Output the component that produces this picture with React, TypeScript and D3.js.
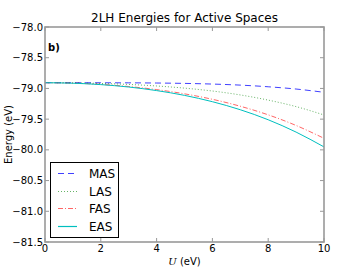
import React from "react";
import * as d3 from "d3";

const uValues = [0, 1, 2, 3, 4, 5, 6, 7, 8, 9, 10];
const masValues = [-78.907, -78.907, -78.908, -78.909, -78.912, -78.918, -78.929, -78.946, -78.973, -79.01, -79.063];
const lasValues = [-78.907, -78.91, -78.919, -78.935, -78.96, -78.995, -79.042, -79.106, -79.19, -79.296, -79.432];
const fasValues = [-78.907, -78.914, -78.934, -78.969, -79.019, -79.088, -79.177, -79.29, -79.43, -79.603, -79.812];
const easValues = [-78.907, -78.915, -78.938, -78.977, -79.035, -79.113, -79.216, -79.347, -79.51, -79.711, -79.952];
const seriesNames = ["MAS", "LAS", "FAS", "EAS"];
const xTicks = [0, 2, 4, 6, 8, 10];
const yTicks = [-78.0, -78.5, -79.0, -79.5, -80.0, -80.5, -81.0, -81.5];

const styles = [
  { color: "#0000ff", dash: "6,4", op: 0.75 },
  { color: "#008000", dash: "1,2", op: 0.6 },
  { color: "#ff0000", dash: "5,2,1,2", op: 0.6 },
  { color: "#00bfbf", dash: null, op: 1 },
];

export default function App() {
  const W = 360, H = 269;
  const L = 45, R = 324, T = 27, B = 242;
  const x = d3.scaleLinear().domain([0, 10]).range([L, R]);
  const y = d3.scaleLinear().domain([-81.5, -78]).range([B, T]);
  const all = [masValues, lasValues, fasValues, easValues];
  const line = d3.line<number>().x((_, i) => x(uValues[i])).y((d) => y(d)).curve(d3.curveMonotoneX);
  const font = "DejaVu Sans, sans-serif";
  const fmt = (v: number) => (v < 0 ? "\u2212" : "") + Math.abs(v).toFixed(1);
  const spine = "#999999";
  return (
    <svg width={W} height={H} style={{ position: "absolute", left: 0, top: 0, background: "#fff" }} fontFamily={font}>
      <rect x={0} y={0} width={W} height={H} fill="#fff" />
      {all.map((vals, k) => (
        <path key={k} d={line(vals) || ""} fill="none" stroke={styles[k].color} strokeWidth={1}
          strokeOpacity={styles[k].op} strokeDasharray={styles[k].dash || undefined} />
      ))}
      {xTicks.map((t) => (
        <g key={"x" + t}>
          <line x1={x(t)} x2={x(t)} y1={B} y2={B - 4} stroke={spine} />
          <line x1={x(t)} x2={x(t)} y1={T} y2={T + 4} stroke={spine} />
          <text x={x(t)} y={B + 10} textAnchor="middle" fontSize={10} fill="#000">{t}</text>
        </g>
      ))}
      {yTicks.map((t) => (
        <g key={"y" + t}>
          <line x1={L} x2={L + 4} y1={y(t)} y2={y(t)} stroke={spine} />
          <line x1={R} x2={R - 4} y1={y(t)} y2={y(t)} stroke={spine} />
          <text x={L - 2} y={y(t) + 3.5} textAnchor="end" fontSize={10} fill="#000">{fmt(t)}</text>
        </g>
      ))}
      <rect x={L} y={T} width={R - L} height={B - T} fill="none" stroke={spine} strokeWidth={1.6} />
      <text x={(L + R) / 2} y={22} textAnchor="middle" fontSize={12} fill="#000">2LH Energies for Active Spaces</text>
      <text x={48} y={51} fontSize={10} fontWeight="bold" fill="#000">b)</text>
      <text transform={`translate(12,${(T + B) / 2}) rotate(-90)`} textAnchor="middle" fontSize={10} fill="#000">Energy (eV)</text>
      <text x={(L + R) / 2} y={265} textAnchor="middle" fontSize={10} fill="#000">
        <tspan fontStyle="italic" fontFamily="DejaVu Serif, serif">U</tspan> (eV)
      </text>
      <rect x={50.5} y={162.5} width={68} height={75} fill="#fff" stroke="#000" strokeWidth={1} />
      {seriesNames.map((n, k) => {
        const yy = Math.round(173 + k * 17.5) + 0.5;
        return (
          <g key={n}>
            <line x1={58} x2={77} y1={yy} y2={yy} stroke={styles[k].color} strokeWidth={1.2} strokeOpacity={styles[k].op}
              strokeDasharray={styles[k].dash || undefined} />
            <text x={89} y={yy + 4} fontSize={12} fill="#000">{n}</text>
          </g>
        );
      })}
    </svg>
  );
}
